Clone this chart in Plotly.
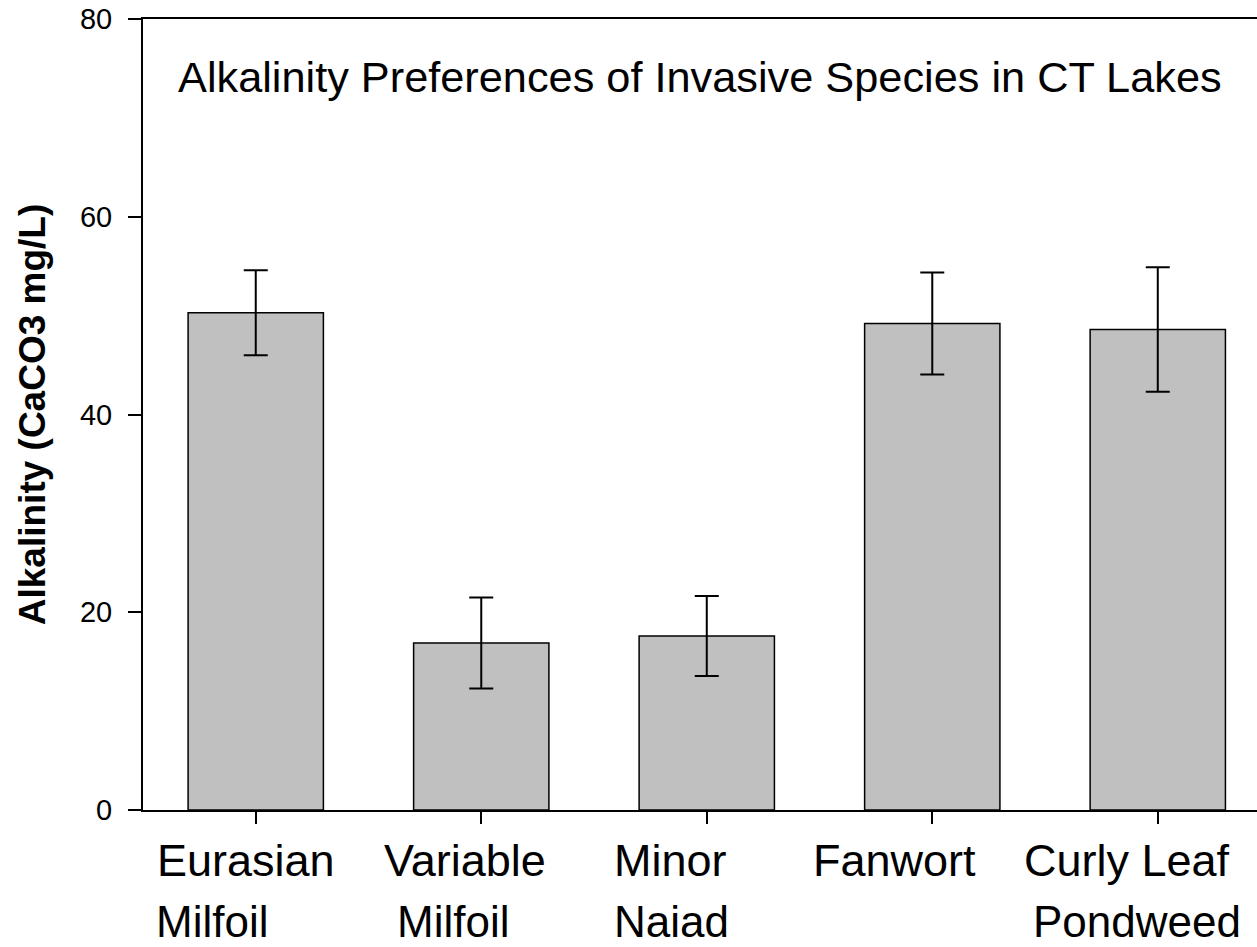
import plotly.graph_objects as go

categories = ["Eurasian Milfoil", "Variable Milfoil", "Minor Naiad", "Fanwort", "Curly Leaf Pondweed"]
label_line1 = ["Eurasian", "Variable", "Minor", "Fanwort", "Curly Leaf"]
label_line2 = ["Milfoil", "Milfoil", "Naiad", "", "Pondweed"]
alkalinity = [50.3, 16.9, 17.6, 49.2, 48.6]
std_err = [4.3, 4.6, 4.05, 5.15, 6.3]
y_ticks = [0, 20, 40, 60, 80]

# horizontal offsets (px) of label left edges relative to each category centre
label_dx1 = [-100, -98, -94, -120, -135]
label_dx2 = [-101, -85, -94, -120, -126]

FONT = "Arial, Liberation Sans, sans-serif"

fig = go.Figure()
fig.add_trace(go.Bar(
    x=categories, y=alkalinity, width=0.6,
    marker=dict(color="#c0c0c0", line=dict(color="black", width=1.5)),
    error_y=dict(type="data", array=std_err, visible=True, color="black", thickness=2, width=12),
))

annotations = []
for i, cat in enumerate(categories):
    annotations.append(dict(x=cat, xref="x", y=0, yref="paper", text=label_line1[i], showarrow=False,
                            xanchor="left", yanchor="top", xshift=label_dx1[i], yshift=-24, borderpad=0,
                            font=dict(family=FONT, size=45, color="black")))
    if label_line2[i]:
        annotations.append(dict(x=cat, xref="x", y=0, yref="paper", text=label_line2[i], showarrow=False,
                                xanchor="left", yanchor="top", xshift=label_dx2[i], yshift=-86, borderpad=0,
                                font=dict(family=FONT, size=44, color="black")))

annotations.append(dict(x=0.5, xref="paper", y=1, yref="paper", yanchor="top", yshift=-32,
                        text="Alkalinity Preferences of Invasive Species in CT Lakes", showarrow=False,
                        font=dict(family=FONT, size=43.3, color="black")))

fig.update_layout(
    width=1257, height=947,
    margin=dict(l=143, r=0, t=19, b=137, autoexpand=False),
    plot_bgcolor="white", paper_bgcolor="white",
    showlegend=False,
    font=dict(family=FONT, color="black"),
    annotations=annotations,
    xaxis=dict(range=[-0.5, 4.44], showticklabels=False, ticks="outside", ticklen=12, tickwidth=1.5,
               tickcolor="black", showline=True, linecolor="black", linewidth=2, mirror=True,
               showgrid=False, zeroline=False),
    yaxis=dict(range=[0, 80], tickvals=y_ticks, ticks="outside", ticklen=13, tickwidth=1.5,
               tickcolor="black", showline=True, linecolor="black", linewidth=2, mirror=False,
               showgrid=False, zeroline=False, ticklabelstandoff=10,
               tickfont=dict(family=FONT, size=29, color="black"),
               title=dict(text="Alkalinity (CaCO3 mg/L)", standoff=23,
                          font=dict(family=FONT, size=37, color="black", weight="bold"))),
)

fig.write_html("out.html", config={"displayModeBar": False},
               post_script="document.body.style.margin='0';document.body.style.overflow='hidden';")
